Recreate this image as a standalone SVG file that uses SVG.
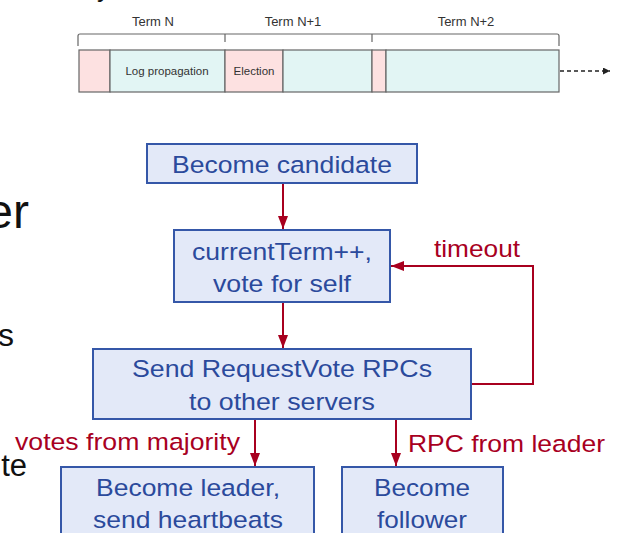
<svg xmlns="http://www.w3.org/2000/svg" width="618" height="533" viewBox="0 0 618 533">
  <defs>
    <style>
      .tl { fill: none; stroke: #666; stroke-width: 1.2; }
      .seg { stroke: #666; stroke-width: 1.2; }
      .pink { fill: #fde1e1; }
      .cyan { fill: #e2f5f4; }
      .tltext { font-family: "Liberation Sans", Arial, sans-serif; fill: #333; }
      .box { fill: #e3e9f8; stroke: #3557a8; stroke-width: 2; }
      .btext { font-family: "Liberation Sans", Arial, sans-serif; font-size: 24.5px; fill: #2b4a9c; text-anchor: middle; }
      .edge { fill: none; stroke: #a8001f; stroke-width: 2; }
      .elabel { font-family: "Liberation Sans", Arial, sans-serif; font-size: 24.5px; fill: #a8001f; }
      .side { font-family: "Liberation Sans", Arial, sans-serif; fill: #111; text-anchor: end; }
    </style>
    <marker id="ah" markerUnits="userSpaceOnUse" markerWidth="13" markerHeight="10" refX="13" refY="5" orient="auto">
      <path d="M0,0 L13,5 L0,10 z" fill="#a8001f"/>
    </marker>
    <marker id="ahsmall" markerUnits="userSpaceOnUse" markerWidth="7" markerHeight="7" refX="7" refY="3.5" orient="auto">
      <path d="M0,0 L7,3.5 L0,7 z" fill="#222"/>
    </marker>
  </defs>

  <rect width="618" height="533" fill="#ffffff"/>

  <!-- text running off the slide edges -->
  <text class="side" x="110" y="-3" font-size="26">y</text>
  <text class="side" x="29" y="228" font-size="48">er</text>
  <text class="side" x="14" y="346" font-size="32">s</text>
  <text class="side" x="27" y="476" font-size="31">te</text>

  <!-- term timeline -->
  <g id="timeline">
    <path class="tl" d="M78,46 V36 Q78,34 80,34 H557 Q559,34 559,36 V46"/>
    <path class="tl" d="M225,34 V42 M372,34 V42"/>
    <text class="tltext" x="153" y="26" font-size="13" text-anchor="middle">Term N</text>
    <text class="tltext" x="293" y="26" font-size="13" text-anchor="middle">Term N+1</text>
    <text class="tltext" x="466" y="26" font-size="13" text-anchor="middle">Term N+2</text>
    <rect class="pink seg" x="79" y="50" width="31" height="42"/>
    <rect class="cyan seg" x="110" y="50" width="115" height="42"/>
    <rect class="pink seg" x="225" y="50" width="58" height="42"/>
    <rect class="cyan seg" x="283" y="50" width="89" height="42"/>
    <rect class="pink seg" x="372" y="50" width="14" height="42"/>
    <rect class="cyan seg" x="386" y="50" width="173" height="42"/>
    <text class="tltext" x="167" y="75" font-size="11.5" text-anchor="middle">Log propagation</text>
    <text class="tltext" x="254" y="75" font-size="11.5" text-anchor="middle">Election</text>
    <line x1="560" y1="71" x2="610" y2="71" stroke="#222" stroke-width="1.3" stroke-dasharray="4,3" marker-end="url(#ahsmall)"/>
  </g>

  <!-- flowchart nodes -->
  <g id="become-candidate">
    <rect class="box" x="147" y="144" width="270" height="39"/>
    <text class="btext" x="282" y="173" textLength="220" lengthAdjust="spacingAndGlyphs">Become candidate</text>
  </g>
  <g id="increment-term">
    <rect class="box" x="174" y="230" width="216" height="72"/>
    <text class="btext" x="282" y="260" textLength="180" lengthAdjust="spacingAndGlyphs">currentTerm++,</text>
    <text class="btext" x="282" y="292" textLength="138" lengthAdjust="spacingAndGlyphs">vote for self</text>
  </g>
  <g id="send-requestvote">
    <rect class="box" x="93" y="349" width="378" height="70"/>
    <text class="btext" x="282" y="377" textLength="300" lengthAdjust="spacingAndGlyphs">Send RequestVote RPCs</text>
    <text class="btext" x="282" y="410" textLength="186" lengthAdjust="spacingAndGlyphs">to other servers</text>
  </g>
  <g id="become-leader">
    <rect class="box" x="61" y="467" width="253" height="80"/>
    <text class="btext" x="188" y="496" textLength="184" lengthAdjust="spacingAndGlyphs">Become leader,</text>
    <text class="btext" x="188" y="528" textLength="190" lengthAdjust="spacingAndGlyphs">send heartbeats</text>
  </g>
  <g id="become-follower">
    <rect class="box" x="342" y="467" width="161" height="80"/>
    <text class="btext" x="422" y="496" textLength="96" lengthAdjust="spacingAndGlyphs">Become</text>
    <text class="btext" x="422" y="528" textLength="90" lengthAdjust="spacingAndGlyphs">follower</text>
  </g>

  <!-- connectors -->
  <g id="connectors">
    <line class="edge" x1="283" y1="184" x2="283" y2="229" marker-end="url(#ah)"/>
    <line class="edge" x1="283" y1="303" x2="283" y2="348" marker-end="url(#ah)"/>
    <path class="edge" d="M472,384 H533 V266 H391" marker-end="url(#ah)"/>
    <line class="edge" x1="255" y1="420" x2="255" y2="466" marker-end="url(#ah)"/>
    <line class="edge" x1="396" y1="420" x2="396" y2="466" marker-end="url(#ah)"/>
    <text class="elabel" x="434" y="257" textLength="86" lengthAdjust="spacingAndGlyphs">timeout</text>
    <text class="elabel" x="15" y="450" textLength="225" lengthAdjust="spacingAndGlyphs">votes from majority</text>
    <text class="elabel" x="408" y="452" textLength="197" lengthAdjust="spacingAndGlyphs">RPC from leader</text>
  </g>
</svg>
